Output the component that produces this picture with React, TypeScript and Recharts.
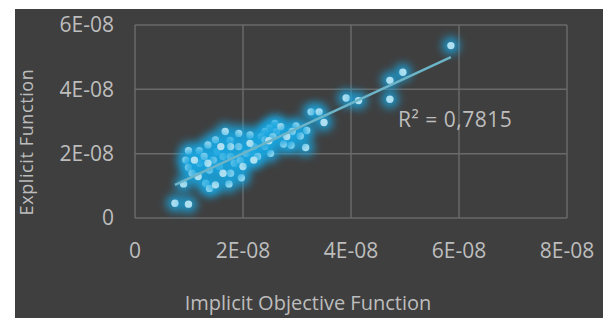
import { ScatterChart, Scatter, XAxis, YAxis, CartesianGrid } from "recharts";

// values in units of 1E-08
const implicitX = [
  5.85, 4.96, 4.72, 4.72, 3.91, 4.14, 3.26, 3.41, 3.5, 3.16, 3.18, 3.06, 2.98,
  2.89, 2.75, 2.59, 2.49, 2.41, 2.34, 2.51, 2.4, 2.13, 2.17, 1.97, 1.92, 1.76,
  1.67, 1.74, 1.52, 1.49, 1.35, 1.19, 0.99, 0.94, 0.99, 0.9, 0.74, 0.99, 1.06,
  1.2, 1.31, 1.38, 1.49, 1.56, 1.63, 1.77, 1.84, 1.95, 2.06, 1.38, 1.45, 1.28,
  1.17, 1.77, 1.63, 1.92, 2.2, 2.27, 2.62, 2.7, 2.91, 2.81, 2.13, 1.77, 1.59,
  1.35, 1.1, 2.0, 2.2, 2.41, 2.55, 2.48,
];
const explicitY = [
  5.36, 4.53, 4.28, 3.69, 3.73, 3.65, 3.3, 3.3, 2.97, 2.19, 2.72, 2.55, 2.86,
  2.26, 2.3, 2.94, 2.79, 2.69, 2.53, 2.01, 2.22, 2.58, 2.01, 1.25, 2.63, 2.41,
  2.69, 1.06, 2.06, 2.43, 2.27, 2.09, 2.09, 1.8, 1.57, 1.06, 0.46, 0.43, 1.39,
  1.7, 1.08, 0.92, 1.03, 1.6, 1.91, 1.91, 1.7, 1.8, 2.01, 1.49, 1.8, 1.91,
  1.29, 1.39, 1.39, 2.22, 2.22, 1.91, 2.69, 2.84, 2.69, 2.53, 2.32, 2.22, 2.22,
  1.7, 1.8, 1.6, 1.8, 2.43, 2.53, 2.4,
];
const trendX = [0.74, 5.85];
const trendY = [1.03, 5.0];
const xTicks = [0, 2, 4, 6, 8];
const xTickLabels = ["0", "2E-08", "4E-08", "6E-08", "8E-08"];
const yTicks = [0, 2, 4, 6];
const yTickLabels = ["0", "2E-08", "4E-08", "6E-08"];
const rSquared = "0,7815";
const SCALE = 1e-8;

const points = implicitX.map((x, i) => ({ x: x * SCALE, y: explicitY[i] * SCALE }));
const trend = trendX.map((x, i) => ({ x: x * SCALE, y: trendY[i] * SCALE }));

const TEXT = "#bdbdbd";
const FONT = "'Open Sans', sans-serif";

const GlowDot = (props: any) => {
  const { cx, cy } = props;
  return (
    <g>
      <circle cx={cx} cy={cy} r={9} fill="#1aa6e0" opacity={0.8} style={{ filter: "blur(4px)" }} />
      <circle cx={cx} cy={cy} r={3.7} fill="#aee0f1" />
    </g>
  );
};

const label = (ticks: number[], labels: string[]) => (v: number) => {
  const i = ticks.findIndex((t) => Math.abs(t * SCALE - v) < SCALE / 100);
  return i >= 0 ? labels[i] : "";
};

export default function App() {
  return (
    <div
      style={{
        position: "absolute",
        left: 15,
        top: 9,
        width: 588,
        height: 309,
        background: "#3f3f3f",
        fontFamily: FONT,
      }}
    >
      <ScatterChart
        width={588}
        height={309}
        margin={{ top: 16, right: 36, left: 0, bottom: 0 }}
      >
        <CartesianGrid stroke="#6a6a6a" strokeWidth={1.5} />
        <XAxis
          type="number"
          dataKey="x"
          domain={[0, 8 * SCALE]}
          ticks={xTicks.map((t) => t * SCALE)}
          tickFormatter={label(xTicks, xTickLabels)}
          height={100}
          axisLine={false}
          tickLine={false}
          tickSize={0}
          tickMargin={25}
          tick={{ fill: TEXT, fontSize: 21, fontFamily: FONT }}
        />
        <YAxis
          type="number"
          dataKey="y"
          domain={[0, 6 * SCALE]}
          ticks={yTicks.map((t) => t * SCALE)}
          tickFormatter={label(yTicks, yTickLabels)}
          width={120}
          axisLine={false}
          tickLine={false}
          tickSize={0}
          tickMargin={21}
          tick={{ fill: TEXT, fontSize: 21, fontFamily: FONT }}
        />
        <Scatter data={points} shape={GlowDot} isAnimationActive={false} />
        <Scatter
          data={trend}
          line={{ stroke: "#6cb4c8", strokeWidth: 2.5 }}
          shape={() => <g />}
          isAnimationActive={false}
        />
      </ScatterChart>
      <div
        style={{
          position: "absolute",
          left: 308 - 15,
          top: 280,
          transform: "translateX(-50%)",
          whiteSpace: "nowrap",
          color: TEXT,
          fontSize: 20,
        }}
      >
        Implicit Objective Function
      </div>
      <div
        style={{
          position: "absolute",
          left: 11,
          top: 133,
          transform: "translate(-50%, -50%) rotate(-90deg)",
          whiteSpace: "nowrap",
          color: TEXT,
          fontSize: 18,
          letterSpacing: 0.6,
          lineHeight: "20px",
        }}
      >
        Explicit Function
      </div>
      <div
        style={{
          position: "absolute",
          left: 383,
          top: 96,
          whiteSpace: "nowrap",
          color: TEXT,
          fontSize: 21,
          letterSpacing: 0.5,
        }}
      >
        R² = {rSquared}
      </div>
    </div>
  );
}
